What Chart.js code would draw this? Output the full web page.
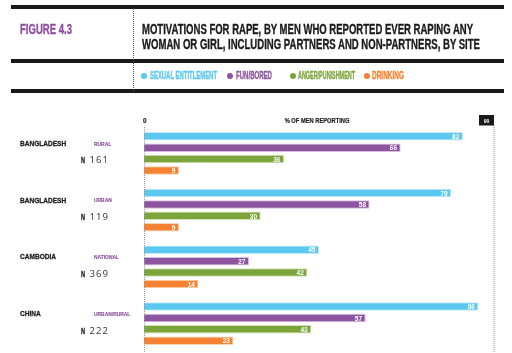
<!DOCTYPE html>
<html>
<head>
<meta charset="utf-8">
<script src="https://cdn.jsdelivr.net/npm/chart.js@4.4.1/dist/chart.umd.min.js"></script>
<style>
  html, body { margin: 0; padding: 0; background: #fff; overflow: hidden; }
  #wrap { position: relative; width: 512px; height: 353px; }
  #chart { position: absolute; left: 0; top: 0; }
  .rule { position: absolute; left: 11px; width: 493px; height: 4px; background: #1a1a1a; }
  .vdots { position: absolute; left: 133px; top: 8px; height: 84px; border-left: 1px dotted #555; }
  .t { position: absolute; white-space: nowrap; font-family: "Liberation Sans Narrow", "Liberation Sans", Arial, sans-serif;
       font-weight: bold; line-height: normal; transform-origin: 0 0; -webkit-text-stroke: 0.35px currentColor; }
  .dot { position: absolute; width: 6px; height: 6px; border-radius: 50%; }
</style>
</head>
<body>
<div id="wrap">
  <canvas id="chart" width="512" height="353"></canvas>

  <div class="rule" style="top:5px"></div>
  <div class="rule" style="top:59px"></div>
  <div class="rule" style="top:89px"></div>
  <div class="vdots"></div>

  <div class="t" data-w="52" style="left:20px; top:20.6px; font-size:14px; color:#8e4fa0">FIGURE 4.3</div>
  <div class="t" data-w="331" style="left:142px; top:20.6px; font-size:14px; color:#1a1a1a">MOTIVATIONS FOR RAPE, BY MEN WHO REPORTED EVER RAPING ANY</div>
  <div class="t" data-w="338" style="left:142px; top:35.6px; font-size:14px; color:#1a1a1a">WOMAN OR GIRL, INCLUDING PARTNERS AND NON-PARTNERS, BY SITE</div>

  <div id="legend"></div>
</div>

<script>
// --- data ---
const sites = ['BANGLADESH', 'BANGLADESH', 'CAMBODIA', 'CHINA'];
const siteTypes = ['RURAL', 'URBAN', 'NATIONAL', 'URBAN/RURAL'];
const sampleN = [161, 119, 369, 222];
const motives = ['SEXUAL ENTITLEMENT', 'FUN/BORED', 'ANGER/PUNISHMENT', 'DRINKING'];
const entitlement = [82, 79, 45, 86];
const funBored = [66, 58, 27, 57];
const anger = [36, 30, 42, 43];
const drinking = [9, 9, 14, 23];
const axisMin = 0;
const axisMax = 90;
const axisTitle = '% OF MEN REPORTING';

// --- styling ---
const colors = ['#5bc8ef', '#8d55a0', '#7ba43a', '#f58232'];
const edges = ['#c4ebf9', '#d6bfdf', '#d2e3b6', '#fbd2b4'];
const legendPos = [[144, 150, 67], [230, 236, 36], [293, 298, 57], [367, 372, 32]];
const NARROW = '"Liberation Sans Narrow", "Liberation Sans", Arial, sans-serif';
const PLAIN = '"Noto Sans", "DejaVu Sans", sans-serif';

// legend (html)
const legend = document.getElementById('legend');
motives.forEach((m, i) => {
  const [dx, tx, w] = legendPos[i];
  const d = document.createElement('div');
  d.className = 'dot';
  d.style.cssText = `left:${dx - 3}px; top:73px; background:${colors[i]}`;
  legend.appendChild(d);
  const t = document.createElement('div');
  t.className = 't';
  t.dataset.w = w;
  t.style.cssText = `left:${tx}px; top:70px; font-size:10px; color:${colors[i]}`;
  t.textContent = m;
  legend.appendChild(t);
});

// condensed, optionally slightly heavier text on the canvas
const condensed = (ctx, text, x, y, k, heavy) => {
  const w = ctx.measureText(text).width;
  ctx.fillText(text, x, y, w * k);
  if (heavy) {
    ctx.strokeStyle = ctx.fillStyle;
    ctx.lineWidth = heavy;
    ctx.strokeText(text, x, y, w * k);
  }
};

const decor = {
  id: 'decor',
  afterDatasetsDraw(chart) {
    const ctx = chart.ctx;
    const x = chart.scales.x;
    const y = chart.scales.y;
    const area = chart.chartArea;
    const x0 = x.getPixelForValue(axisMin);
    const x1 = x.getPixelForValue(axisMax);
    ctx.save();

    // dotted axis lines
    ctx.setLineDash([1, 1]);
    ctx.strokeStyle = '#9a9a9a';
    ctx.lineWidth = 1;
    ctx.beginPath();
    ctx.moveTo(x0 + 0.5, 127);
    ctx.lineTo(x0 + 0.5, area.bottom);
    ctx.stroke();
    ctx.strokeStyle = '#c8c8c8';
    ctx.lineWidth = 2;
    ctx.beginPath();
    ctx.moveTo(x1, 125);
    ctx.lineTo(x1, area.bottom);
    ctx.stroke();
    ctx.setLineDash([]);

    // axis labels
    ctx.fillStyle = '#222';
    ctx.font = `bold 7.5px ${NARROW}`;
    ctx.textBaseline = 'alphabetic';
    ctx.textAlign = 'left';
    condensed(ctx, String(axisMin), x0 - 1, 122.7, 0.85, 0.2);
    ctx.textAlign = 'center';
    ctx.font = `bold 7px ${NARROW}`;
    condensed(ctx, axisTitle, 317, 123, 0.82, 0.2);
    ctx.fillStyle = '#1a1a1a';
    ctx.fillRect(x1 - 15, 115, 15, 10.5);
    ctx.fillStyle = '#fff';
    ctx.font = `bold 6px ${NARROW}`;
    condensed(ctx, String(axisMax), x1 - 7.5, 122.5, 0.85);

    // site labels
    sites.forEach((s, i) => {
      const cy = y.getPixelForValue(i);
      ctx.textAlign = 'left';
      ctx.fillStyle = '#1a1a1a';
      ctx.font = `bold 7.8px ${NARROW}`;
      condensed(ctx, s, 20, cy - 7.6, 0.84, 0.3);
      ctx.fillStyle = '#8e4fa0';
      ctx.font = `bold 6px ${NARROW}`;
      condensed(ctx, siteTypes[i], 94, cy - 7.8, 0.82, 0.15);
      ctx.fillStyle = '#1a1a1a';
      ctx.font = `bold 9px ${NARROW}`;
      condensed(ctx, 'N', 81, cy + 10, 0.62, 0.3);
      ctx.fillStyle = '#444';
      ctx.font = `9.6px ${PLAIN}`;
      ctx.letterSpacing = '1px';
      ctx.fillText(String(sampleN[i]), 89.5, cy + 10);
      ctx.letterSpacing = '0px';
    });

    // value labels inside bar ends
    ctx.fillStyle = '#fff';
    ctx.font = `bold 8px ${NARROW}`;
    ctx.textAlign = 'right';
    ctx.textBaseline = 'middle';
    chart.data.datasets.forEach((ds, di) => {
      chart.getDatasetMeta(di).data.forEach((bar, i) => {
        condensed(ctx, String(ds.data[i]), bar.x - 3.5, bar.y + 0.5, 0.82);
      });
    });
    ctx.restore();
  }
};

const series = [entitlement, funBored, anger, drinking];

function build() {
  // squeeze header text to the condensed width of the original face
  document.querySelectorAll('[data-w]').forEach(el => {
    el.style.transform = 'none';
    const w = el.getBoundingClientRect().width;
    el.style.transform = `scaleX(${el.dataset.w / w})`;
  });

  new Chart(document.getElementById('chart'), {
    type: 'bar',
    data: {
      labels: sites.map((s, i) => s + ' ' + siteTypes[i]),
      datasets: series.map((vals, i) => ({
        label: motives[i],
        data: vals,
        backgroundColor: colors[i],
        borderColor: edges[i],
        borderWidth: 1,
        borderSkipped: 'start',
        categoryPercentage: 0.805,
        barPercentage: 0.74
      }))
    },
    options: {
      indexAxis: 'y',
      responsive: false,
      animation: false,
      layout: { padding: { left: 144, top: 125, right: 18, bottom: 1 } },
      scales: {
        x: { display: false, min: axisMin, max: axisMax },
        y: { display: false }
      },
      plugins: {
        legend: { display: false },
        tooltip: { enabled: false }
      }
    },
    plugins: [decor]
  });
}

Promise.all([
  document.fonts.load('bold 10px "Liberation Sans"'),
  document.fonts.load('10px "Noto Sans"')
]).then(build, build);
</script>
</body>
</html>
